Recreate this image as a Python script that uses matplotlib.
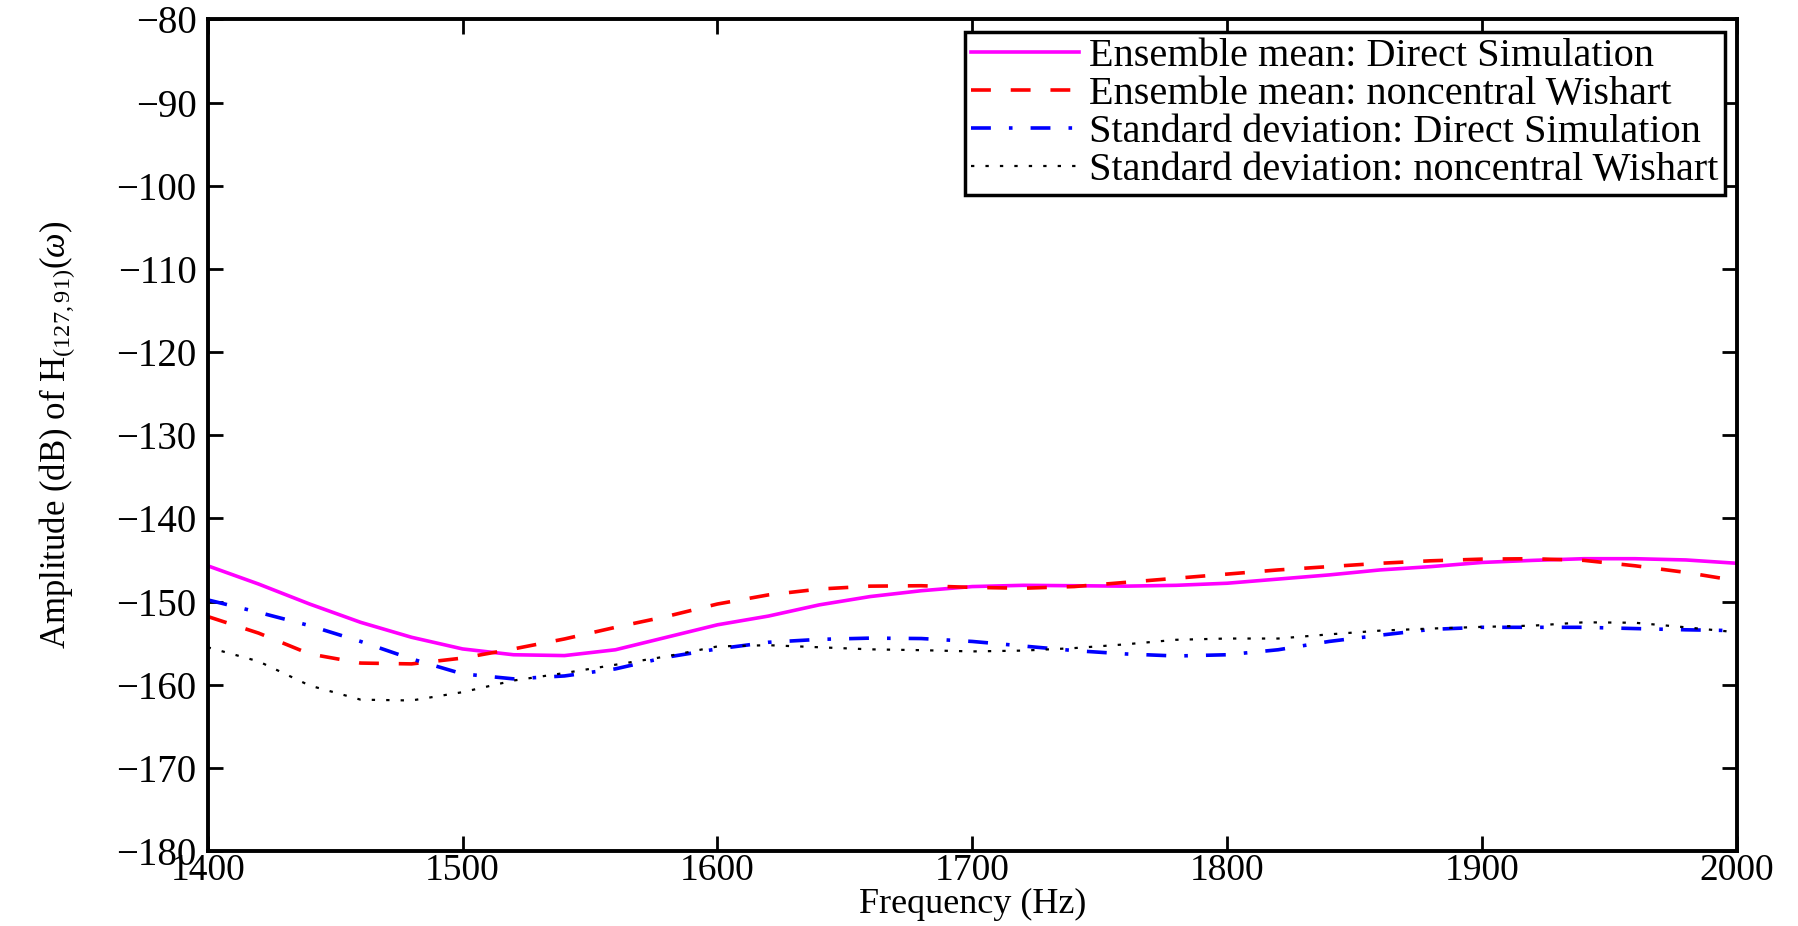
import numpy as np
import matplotlib
matplotlib.use("Agg")
import matplotlib.pyplot as plt

plt.rcParams['font.family'] = ['Liberation Serif', 'DejaVu Serif']
plt.rcParams['mathtext.fontset'] = 'custom'
plt.rcParams['mathtext.rm'] = 'Liberation Serif'
plt.rcParams['mathtext.it'] = 'Liberation Serif:italic'

# frequency grid (Hz) and curves (dB)
freq = np.arange(1400, 2001, 20)

mean_direct = [-145.7, -147.9, -150.3, -152.5, -154.3, -155.7, -156.4, -156.5, -155.8, -154.3,
               -152.8, -151.75, -150.4, -149.4, -148.7, -148.2, -148.05, -148.1, -148.15, -148.05,
               -147.8, -147.3, -146.8, -146.2, -145.8, -145.3, -145.05, -144.85, -144.85, -145.0,
               -145.4]
mean_wishart = [-151.8, -153.8, -156.3, -157.4, -157.5, -156.8, -155.7, -154.5, -153.1, -151.8,
                -150.3, -149.2, -148.5, -148.15, -148.1, -148.3, -148.4, -148.2, -147.7, -147.2,
                -146.7, -146.2, -145.8, -145.4, -145.1, -144.9, -144.85, -145.05, -145.7, -146.5,
                -147.5]
std_direct = [-149.8, -151.3, -152.9, -154.8, -156.9, -158.7, -159.3, -158.95, -158.1, -156.7,
              -155.7, -154.9, -154.55, -154.4, -154.45, -154.8, -155.35, -155.9, -156.3, -156.55,
              -156.4, -155.8, -154.8, -154.05, -153.35, -153.1, -153.1, -153.1, -153.25, -153.4,
              -153.5]
std_wishart = [-155.5, -157.2, -160.1, -161.8, -161.9, -160.9, -159.5, -158.6, -157.6, -156.6,
               -155.4, -155.25, -155.5, -155.75, -155.85, -156.0, -155.9, -155.6, -155.15, -154.6,
               -154.45, -154.45, -153.95, -153.5, -153.25, -153.05, -152.9, -152.5, -152.55, -153.1,
               -153.7]

labels = ['Ensemble mean: Direct Simulation',
          'Ensemble mean: noncentral Wishart',
          'Standard deviation: Direct Simulation',
          'Standard deviation: noncentral Wishart']

fig = plt.figure(figsize=(17.98, 9.26), dpi=100)
ax = fig.add_axes([0.1155, 0.081, 0.8505, 0.898])

ax.plot(freq, mean_direct, color='magenta', lw=2.6, label=labels[0])
ax.plot(freq, mean_wishart, color='red', lw=2.6, dashes=(5.5, 5.5), label=labels[1])
ax.plot(freq, std_direct, color='blue', lw=2.6, dashes=(5.5, 5, 1, 5), label=labels[2])
ax.plot(freq, std_wishart, color='black', lw=1.6, dashes=(1.5, 5), label=labels[3])

ax.set_xlim(1400, 2000)
ax.set_ylim(-180, -80)
ax.set_xticks(np.arange(1400, 2001, 100))
ax.set_yticks(np.arange(-180, -79, 10))

ax.tick_params(direction='in', length=11, width=2, top=True, right=True, labelsize=28)
ax.tick_params(axis='y', pad=8)
ax.tick_params(axis='x', pad=2, labelsize=27)
for s in ax.spines.values():
    s.set_linewidth(2.8)

ax.set_xlabel('Frequency (Hz)', fontsize=26, labelpad=0)
ax.set_ylabel(r'Amplitude (dB) of H$_{(127,91)}$($\omega$)', fontsize=25, labelpad=28)

leg = ax.legend(loc='upper right', fontsize=29, fancybox=False, framealpha=1,
                edgecolor='black', borderaxespad=0.3, handlelength=2.7,
                handletextpad=0.25, labelspacing=0.02, borderpad=0.15)
leg.get_frame().set_linewidth(2.5)

fig.savefig('out.png', dpi=100)
